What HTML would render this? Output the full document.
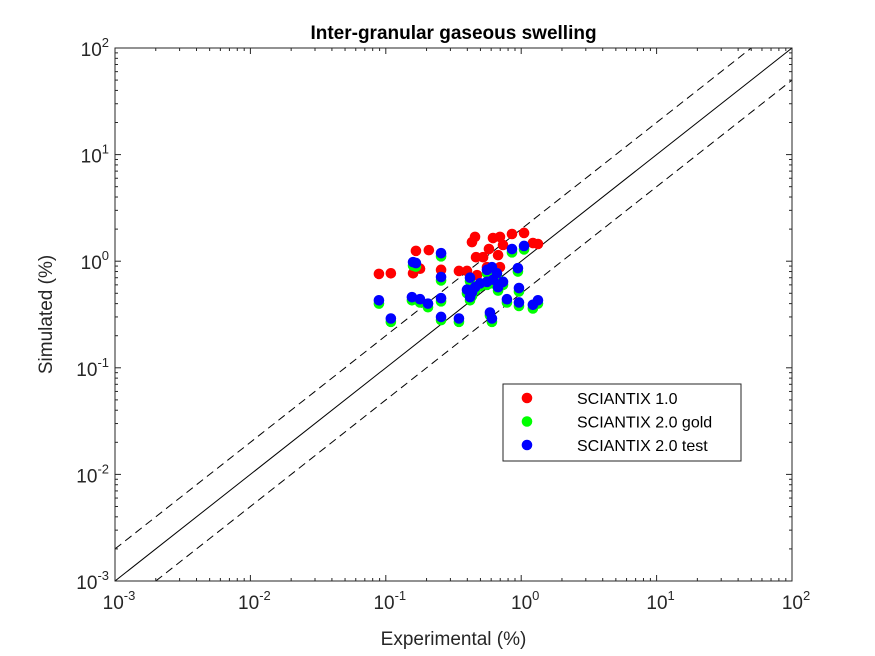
<!DOCTYPE html>
<html><head><meta charset="utf-8"><style>
html,body{margin:0;padding:0;background:#fff;}
svg{display:block;font-family:"Liberation Sans",Arial,sans-serif;}
</style></head><body>
<svg id="chart" width="875" height="656" viewBox="0 0 875 656"></svg>
<script>
const xTickExps=[-3,-2,-1,0,1,2];
const yTickExps=[-3,-2,-1,0,1,2];
const refRatios=[1,2,0.5];
const seriesNames=["SCIANTIX 1.0","SCIANTIX 2.0 gold","SCIANTIX 2.0 test"];
const redX=[0.089,0.109,0.167,0.208,0.159,0.179,0.256,0.347,0.398,0.433,0.456,0.464,0.523,0.578,0.619,0.697,0.675,0.855,1.05,1.22,1.33,0.734,0.559,0.697,0.472];
const redY=[0.76,0.77,1.25,1.27,0.77,0.85,0.83,0.81,0.81,1.51,1.69,1.09,1.09,1.30,1.65,1.69,1.14,1.80,1.84,1.48,1.45,1.42,0.88,0.88,0.74];
const blueX=[0.089,0.109,0.159,0.167,0.256,0.256,0.156,0.179,0.205,0.256,0.256,0.347,0.419,0.433,0.398,0.419,0.456,0.497,0.559,0.608,0.662,0.559,0.619,0.675,0.734,0.588,0.608,0.785,0.855,0.946,0.963,0.963,1.05,1.22,1.33];
const blueY=[0.43,0.29,0.98,0.96,1.19,0.71,0.46,0.44,0.40,0.45,0.30,0.29,0.70,0.51,0.54,0.46,0.57,0.62,0.83,0.88,0.77,0.64,0.67,0.57,0.64,0.33,0.29,0.44,1.30,0.86,0.56,0.41,1.39,0.39,0.43];
const greenX=[0.089,0.109,0.159,0.167,0.256,0.256,0.156,0.179,0.205,0.256,0.256,0.347,0.419,0.433,0.398,0.419,0.456,0.497,0.559,0.608,0.662,0.559,0.619,0.675,0.734,0.588,0.608,0.785,0.855,0.946,0.963,0.963,1.05,1.22,1.33];
const greenY=[0.40,0.27,0.91,0.89,1.11,0.66,0.43,0.41,0.37,0.42,0.28,0.27,0.65,0.47,0.50,0.43,0.53,0.58,0.77,0.82,0.72,0.60,0.62,0.53,0.60,0.31,0.27,0.41,1.21,0.80,0.52,0.38,1.29,0.36,0.40];

const NS="http://www.w3.org/2000/svg";
const svg=document.getElementById('chart');
const L=115,R=792,T=48,B=581,XMIN=-3,XMAX=2,YMIN=-3,YMAX=2;
const sx=v=>L+(Math.log10(v)-XMIN)/(XMAX-XMIN)*(R-L);
const sy=v=>B-(Math.log10(v)-YMIN)/(YMAX-YMIN)*(B-T);
function mk(tag,attrs,parent){const e=document.createElementNS(NS,tag);for(const k in attrs)e.setAttribute(k,attrs[k]);(parent||svg).appendChild(e);return e;}
const C="#262626";

const defs=mk('defs',{});
const cp=mk('clipPath',{id:'clip'},defs);
mk('rect',{x:L,y:T,width:R-L,height:B-T},cp);

const refG=mk('g',{'clip-path':'url(#clip)'});


refRatios.forEach((r,i)=>{
  const ln=mk('line',{x1:sx(1e-3),y1:sy(1e-3*r),x2:sx(1e2),y2:sy(1e2*r),stroke:'#000','stroke-width':1,'stroke-dasharray':i===0?'none':'8,5'},refG);
  
  
});

const ax=mk('g',{});


mk('rect',{x:L,y:T,width:R-L,height:B-T,fill:'none',stroke:C,'stroke-width':1},ax);
for(let e=XMIN;e<XMAX;e++){for(let m=1;m<10;m++){
  const v=m*Math.pow(10,e);const len=m===1?6:3;
  const x=sx(v);
  mk('line',{x1:x,y1:B,x2:x,y2:B-len,stroke:C},ax);mk('line',{x1:x,y1:T,x2:x,y2:T+len,stroke:C},ax);
}}
for(let e=YMIN;e<YMAX;e++){for(let m=1;m<10;m++){
  const v=m*Math.pow(10,e);const len=m===1?6:3;
  const y=sy(v);
  mk('line',{x1:L,y1:y,x2:L+len,y2:y,stroke:C},ax);mk('line',{x1:R,y1:y,x2:R-len,y2:y,stroke:C},ax);
}}
xTickExps.forEach(e=>{
  const t=mk('text',{x:sx(Math.pow(10,e))+4,y:B+28,'text-anchor':'middle','font-size':19,fill:C},ax);
  
  
  t.innerHTML='10<tspan dy="-9" font-size="13">'+e+'</tspan>';
});
yTickExps.forEach(e=>{
  const t=mk('text',{x:L-6,y:sy(Math.pow(10,e))+8,'text-anchor':'end','font-size':19,fill:C},ax);
  
  
  t.innerHTML='10<tspan dy="-9" font-size="13">'+e+'</tspan>';
});
const xt=mk('text',{x:(L+R)/2,y:645,'text-anchor':'middle','font-size':19,fill:C});
xt.textContent='Experimental (%)';
const yt=mk('text',{x:0,y:0,'text-anchor':'middle','font-size':19,fill:C,transform:`translate(52,${(T+B)/2}) rotate(-90)`});
yt.textContent='Simulated (%)';
const tt=mk('text',{x:(L+R)/2,y:39,'text-anchor':'middle','font-size':19,'font-weight':'bold',fill:'#000'});
tt.textContent='Inter-granular gaseous swelling';

function drawSeries(xs,ys,color,name){
  const g=mk('g',{'clip-path':'url(#clip)'});
  
  
  xs.forEach((x,i)=>{
    const c=mk('circle',{cx:sx(x),cy:sy(ys[i]),r:5.3,fill:color},g);
    
    
  });
}
drawSeries(redX,redY,'#ff0000','series-sciantix-1-0');
drawSeries(greenX,greenY,'#00ff00','series-sciantix-2-0-gold');
drawSeries(blueX,blueY,'#0000ff','series-sciantix-2-0-test');

const lg=mk('g',{});


mk('rect',{x:503,y:384,width:238,height:77,fill:'#fff',stroke:C,'stroke-width':1},lg);
const cols=['#ff0000','#00ff00','#0000ff'];
seriesNames.forEach((n,i)=>{
  const ent=mk('g',{},lg);
  
  
  const y=398+i*23.5;
  mk('circle',{cx:527,cy:y,r:5.3,fill:cols[i]},ent);
  const t=mk('text',{x:577,y:y+6,'font-size':16,fill:'#000'},ent);
  t.textContent=n;
});
</script>
</body></html>
